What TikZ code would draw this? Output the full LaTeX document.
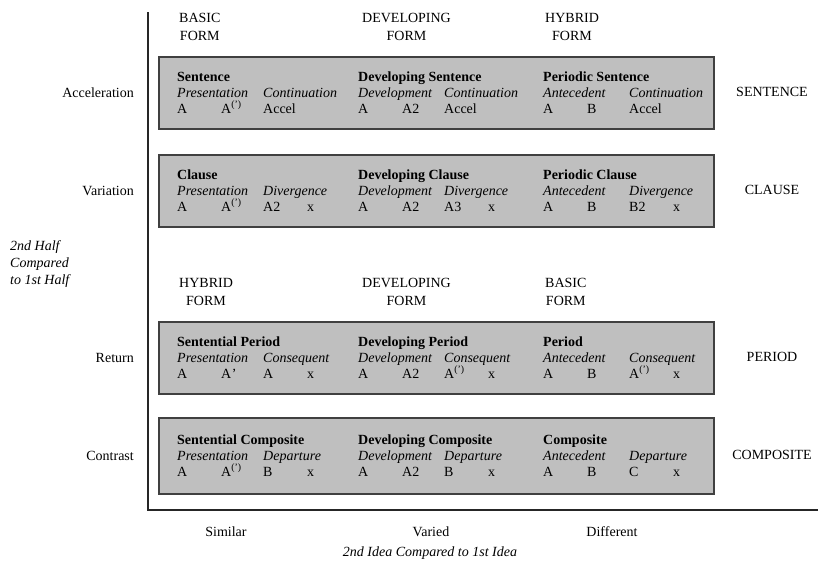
\documentclass[tikz,border=0pt]{standalone}
\usepackage{fontspec}
\setmainfont{Liberation Serif}
\usetikzlibrary{positioning,calc}

\newcommand{\fs}{\fontsize{14}{16}\selectfont}
\tikzset{formbox/.style={rectangle, draw=black!75, line width=1.5pt,
    fill=gray!50, minimum width=555pt, minimum height=72pt,
    inner sep=0pt, anchor=north west},
  cell/.style={anchor=base west, inner sep=0pt, font=\fs},
  title/.style={cell, font=\fs\bfseries},
  part/.style={cell, font=\fs\itshape}}
\tikzstyle{axis}  = [draw, line width=1.1pt, black!85]
\tikzstyle{hdr}   = [align=center, anchor=west, inner sep=0pt,
                     font=\fontsize{14}{18}\selectfont]
\tikzstyle{rowlab} = [anchor=east, inner sep=0pt]
\tikzstyle{kind}  = [anchor=center, inner sep=0pt]
\newcommand{\Ap}{A\textsuperscript{(\textquoteright)}}
\newcommand{\Aq}{A\kern0.5pt\textquoteright}
% #1 box name, #2 top of box, #3 groups
\newcommand{\formrows}[3]{
  \foreach \x/\t/\pa/\pb/\ca/\cb/\cc/\cd [count=\i] in {#3} {
    \node[title] (#1-t\i) at (\x,#2+25) {\t};
    \node[part]  (#1-p\i) at (\x,#2+41) {\pa};
    \node[part]  (#1-q\i) at (\x+86,#2+41) {\pb};
    \node[cell]  (#1-a\i) at (\x,#2+57) {\ca};
    \node[cell]  (#1-b\i) at (\x+44,#2+57) {\cb};
    \node[cell]  (#1-c\i) at (\x+86,#2+57) {\cc};
    \node[cell]  (#1-d\i) at (\x+130,#2+57) {\cd};
  }
}

\begin{document}
\begin{tikzpicture}[x=1pt, y=-1pt, font=\fs]
	\useasboundingbox (0,0) rectangle (822,563);

	% axes
	\coordinate (ytop) at (148,12);
	\coordinate (origin) at (148,510);
	\coordinate (xend) at (818,510);
	\draw[axis] (ytop) -- (origin) -- (xend);

	% upper column headings
	\node[hdr] (basic1) at (179,27) {BASIC\\FORM};
	\node[hdr] (devel1) at (362,27) {DEVELOPING\\FORM};
	\node[hdr] (hybrid1) at (545,27) {HYBRID\\FORM};

	% boxes
	\node[formbox] (sentence) at (158,56) {};
	\node[formbox] (clause) at (158,154) {};
	\node[formbox] (period) at (158,321) {};
	\node[formbox, minimum height=76pt] (composite) at (158,417) {};

	\formrows{sentence}{56}{
		177/Sentence/Presentation/Continuation/A/\Ap/Accel/{},
		358/Developing Sentence/Development/Continuation/A/A2/Accel/{},
		543/Periodic Sentence/Antecedent/Continuation/A/B/Accel/{}}
	\formrows{clause}{154}{
		177/Clause/Presentation/Divergence/A/\Ap/A2/x,
		358/Developing Clause/Development/Divergence/A/A2/A3/x,
		543/Periodic Clause/Antecedent/Divergence/A/B/B2/x}
	\formrows{period}{321}{
		177/Sentential Period/Presentation/Consequent/A/\Aq/A/x,
		358/Developing Period/Development/Consequent/A/A2/\Ap/x,
		543/Period/Antecedent/Consequent/A/B/\Ap/x}
	\formrows{composite}{419}{
		177/Sentential Composite/Presentation/Departure/A/\Ap/B/x,
		358/Developing Composite/Development/Departure/A/A2/B/x,
		543/Composite/Antecedent/Departure/A/B/C/x}

	% lower column headings
	\node[hdr] (hybrid2) at (179,291.5) {HYBRID\\FORM};
	\node[hdr] (devel2) at (362,291.5) {DEVELOPING\\FORM};
	\node[hdr] (basic2) at (545,291.5) {BASIC\\FORM};

	% row labels
	\node[rowlab, left=24pt of sentence.west] (accel) {Acceleration};
	\node[rowlab, left=24pt of clause.west] (variation) {Variation};
	\node[rowlab, left=24pt of period.west] (return) {Return};
	\node[rowlab, left=24pt of composite.west] (contrast) {Contrast};
	\node[anchor=west, align=left, inner sep=0pt, font=\fontsize{14}{17}\selectfont\itshape]
		(half) at (10,264) {2nd Half\\Compared\\to 1st Half};

	% kinds on the right
	\node[kind] (ksent) at (772,92) {SENTENCE};
	\node[kind] (kclause) at (772,190) {CLAUSE};
	\node[kind] (kperiod) at (772,357) {PERIOD};
	\node[kind] (kcomp) at (772,455) {COMPOSITE};

	% bottom axis labels
	\node (similar) at (226,532) {Similar};
	\node (varied) at (431,532) {Varied};
	\node (different) at (612,532) {Different};
	\node[font=\fs\itshape] (idea) at (430,553) {2nd Idea Compared to 1st Idea};
\end{tikzpicture}
\end{document}
